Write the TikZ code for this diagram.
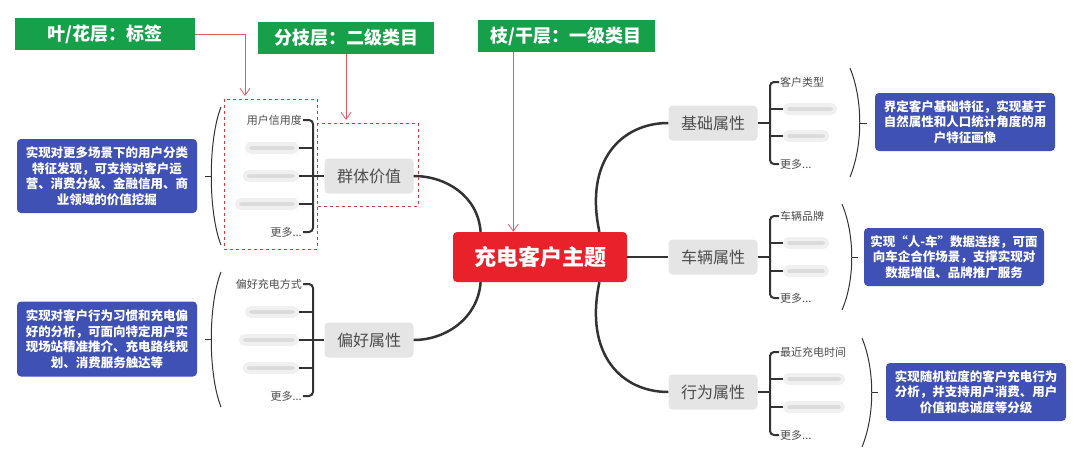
\documentclass[tikz,border=0pt]{standalone}
\usepackage{fontspec}
\setmainfont{Noto Sans CJK SC}
\definecolor{leafgreen}{HTML}{16A04A}
\definecolor{corered}{HTML}{E8212B}
\definecolor{noteblue}{HTML}{3F51B5}
\definecolor{arrowred}{HTML}{DE5A64}
\definecolor{dashred}{HTML}{D9363E}
\definecolor{inkgray}{HTML}{333333}
\usetikzlibrary{arrows.meta, positioning, calc}

\begin{document}
\begin{tikzpicture}[x=1pt, y=-1pt, every node/.style={font=\fontsize{11}{13}\selectfont}]
        \tikzset{
          layer/.style={fill=leafgreen, text=white, inner sep=0pt,
                        minimum height=32pt,
                        font=\bfseries\fontsize{18}{20}\selectfont},
          core/.style={fill=corered, text=white, rounded corners=4pt,
                       minimum width=174pt, minimum height=50pt,
                       font=\bfseries\fontsize{22}{24}\selectfont},
          topic/.style={fill=black!10, text=black!70, rounded corners=4pt,
                        minimum width=89pt, minimum height=35pt,
                        font=\fontsize{16}{18}\selectfont},
          leaf/.style={text=black!70, inner sep=1pt},
          blur/.style={fill=black!14, draw=black!6, line width=4pt,
                       rounded corners=4pt, minimum width=50pt,
                       minimum height=8pt, inner sep=0pt},
          note/.style={fill=noteblue, text=white, rounded corners=4pt,
                       minimum width=180pt, align=center, inner sep=5pt,
                       font=\bfseries\fontsize{12.5}{15.5}\selectfont},
          branch/.style={draw=inkgray, line width=2.5pt},
          brk/.style={draw=inkgray, line width=2pt, rounded corners=4pt},
          paren/.style={draw=inkgray, line width=1pt},
          pointer/.style={draw=arrowred, line width=0.8pt,
                          -{Straight Barb[length=7pt,width=10pt]}},
          zone/.style={draw=dashred, dashed, line width=0.8pt}
        }
        \useasboundingbox (0,0) rectangle (1080,464);

        \node[layer, minimum width=180pt] (lyA) at (105,34) {叶/花层：标签};
        \node[layer, minimum width=176pt] (lyB) at (346,38) {分枝层：二级类目};
        \node[layer, minimum width=177pt] (lyC) at (566,36) {枝/干层：一级类目};

        \node[core] (kern) at (540,257) {充电客户主题};

        \node[topic] (qt) at (369,176) {群体价值};
        \node[topic] (ph) at (369,340) {偏好属性};
        \node[topic] (jc) at (713,123) {基础属性};
        \node[topic] (cl) at (713,257) {车辆属性};
        \node[topic] (xw) at (713,392) {行为属性};

        \draw[branch] (kern.157) .. controls (478,196) and (446,176) .. (qt.east);
        \draw[branch] (kern.203) .. controls (478,318) and (446,340) .. (ph.east);
        \draw[branch] (kern.23) .. controls (584,160) and (622,123) .. (jc.west);
        \draw[branch] (kern.east) -- (cl.west);
        \draw[branch] (kern.337) .. controls (584,355) and (622,392) .. (xw.west);

        % group value
        \node[leaf, anchor=east] (qt1) at (303,120) {用户信用度};
        \node[blur, anchor=east] (qt2) at (299,148) {};
        \node[blur, anchor=east, minimum width=52pt] (qt3) at (299,176) {};
        \node[blur, anchor=east, minimum width=60pt] (qt4) at (299,204) {};
        \node[leaf, anchor=east] (qt5) at (303,232) {更多...};
        \coordinate (qtb) at (313,176);
        \draw[brk] (qt1.east) -| (qtb) |- (qt5.east);
        \draw[brk] (qt2.east) -- (qt2.east -| qtb);
        \draw[brk] (qt4.east) -- (qt4.east -| qtb);
        \draw[brk] (qt3.east) -- (qt.west);

        % preference
        \node[leaf, anchor=east] (ph1) at (303,284) {偏好充电方式};
        \node[blur, anchor=east] (ph2) at (299,312) {};
        \node[blur, anchor=east, minimum width=56pt] (ph3) at (299,340) {};
        \node[blur, anchor=east, minimum width=52pt] (ph4) at (299,368) {};
        \node[leaf, anchor=east] (ph5) at (303,396) {更多...};
        \coordinate (phb) at (313,340);
        \draw[brk] (ph1.east) -| (phb) |- (ph5.east);
        \draw[brk] (ph2.east) -- (ph2.east -| phb);
        \draw[brk] (ph4.east) -- (ph4.east -| phb);
        \draw[brk] (ph3.east) -- (ph.west);

        % basic
        \node[leaf, anchor=west] (jc1) at (779,82) {客户类型};
        \node[blur, anchor=west] (jc2) at (783,109) {};
        \node[blur, anchor=west, minimum width=42pt] (jc3) at (783,136) {};
        \node[leaf, anchor=west] (jc4) at (779,164) {更多...};
        \coordinate (jcb) at (770,123);
        \draw[brk] (jc1.west) -| (jcb) |- (jc4.west);
        \draw[brk] (jc2.west) -- (jc2.west -| jcb);
        \draw[brk] (jc3.west) -- (jc3.west -| jcb);
        \draw[brk] (jc.east) -- (jcb);

        % vehicle
        \node[leaf, anchor=west] (cl1) at (779,216) {车辆品牌};
        \node[blur, anchor=west, minimum width=42pt] (cl2) at (783,243) {};
        \node[blur, anchor=west, minimum width=42pt] (cl3) at (783,271) {};
        \node[leaf, anchor=west] (cl4) at (779,298) {更多...};
        \coordinate (clb) at (770,257);
        \draw[brk] (cl1.west) -| (clb) |- (cl4.west);
        \draw[brk] (cl2.west) -- (cl2.west -| clb);
        \draw[brk] (cl3.west) -- (cl3.west -| clb);
        \draw[brk] (cl.east) -- (clb);

        % behaviour
        \node[leaf, anchor=west] (xw1) at (779,352) {最近充电时间};
        \node[blur, anchor=west, minimum width=58pt] (xw2) at (783,379) {};
        \node[blur, anchor=west, minimum width=58pt] (xw3) at (783,407) {};
        \node[leaf, anchor=west] (xw4) at (779,435) {更多...};
        \coordinate (xwb) at (770,392);
        \draw[brk] (xw1.west) -| (xwb) |- (xw4.west);
        \draw[brk] (xw2.west) -- (xw2.west -| xwb);
        \draw[brk] (xw3.west) -- (xw3.west -| xwb);
        \draw[brk] (xw.east) -- (xwb);

        \draw[paren] (221,107) .. controls (208,140) and (208,212) .. (221,245);
        \draw[paren] (212,176) -- (205,176);
        \draw[paren] (221,272) .. controls (208,305) and (208,374) .. (221,407);
        \draw[paren] (212,339) -- (205,339);
        \draw[paren] (850,68) .. controls (863,100) and (863,145) .. (850,177);
        \draw[paren] (860,123) -- (867,123);
        \draw[paren] (842,204) .. controls (855,235) and (855,280) .. (842,310);
        \draw[paren] (852,257) -- (858,257);
        \draw[paren] (862,338) .. controls (875,370) and (875,415) .. (862,447);
        \draw[paren] (872,392) -- (878,392);

        \node[note, minimum height=74pt] (nqt) at (107,176)
              {实现对更多场景下的用户分类\\特征发现，可支持对客户运\\营、消费分级、金融信用、商\\业领域的价值挖掘};
        \node[note, minimum height=75pt] (nph) at (107,339)
              {实现对客户行为习惯和充电偏\\好的分析，可面向特定用户实\\现场站精准推介、充电路线规\\划、消费服务触达等};
        \node[note, minimum height=58pt] (njc) at (965,122)
              {界定客户基础特征，实现基于\\自然属性和人口统计角度的用\\户特征画像};
        \node[note, minimum height=58pt] (ncl) at (954,257)
              {实现“人-车”数据连接，可面\\向车企合作场景，支撑实现对\\数据增值、品牌推广服务};
        \node[note, minimum height=58pt] (nxw) at (976,392)
              {实现随机粒度的客户充电行为\\分析，并支持用户消费、用户\\价值和忠诚度等分级};

        \draw[zone] (224,99) rectangle (317,249);
        \draw[zone] (317,123) rectangle (418,206);
        \coordinate (zAtop) at (245,96);
        \coordinate (zBtop) at (346,120);
        \draw[pointer] (lyA.east) -| (zAtop);
        \draw[pointer] (lyB.south) -- (zBtop);
        \draw[pointer] ($(lyC.south west)+(36,0)$) coordinate (c3) -- (c3 |- kern.north);
      \end{tikzpicture}
\end{document}
